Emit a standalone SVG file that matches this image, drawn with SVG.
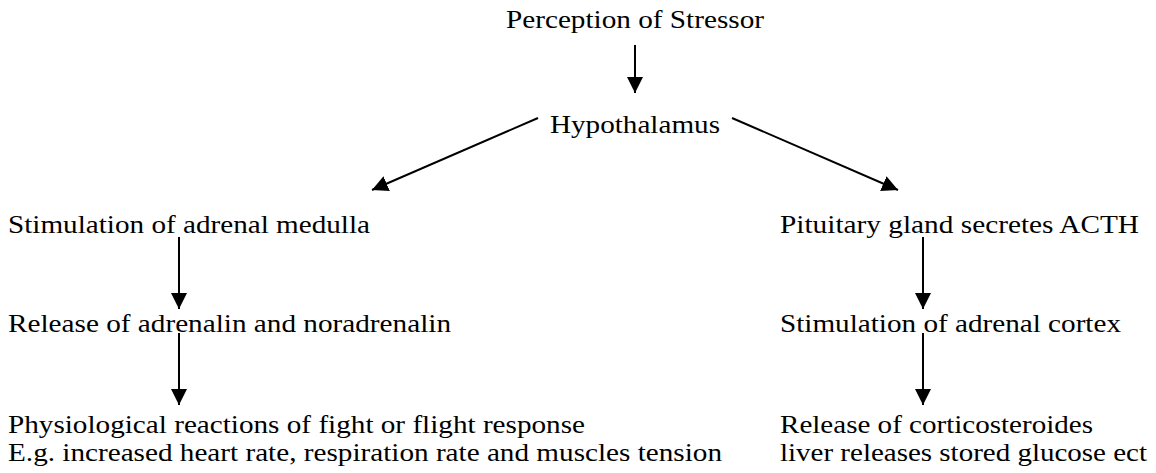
<svg xmlns="http://www.w3.org/2000/svg" width="1156" height="473" viewBox="0 0 1156 473">
<style>
text{font-family:"Liberation Serif","Times New Roman",serif;font-size:26px;fill:#000}
.c{stroke:#000;stroke-width:2;fill:none;marker-end:url(#ah)}
</style>
<defs>
<marker id="ah" markerUnits="userSpaceOnUse" markerWidth="16" markerHeight="16" refX="16" refY="8" orient="auto" viewBox="0 0 16 16">
<path d="M0,0 L16,8 L0,16 z" fill="#000"/>
</marker>
</defs>
<rect width="1156" height="473" fill="#fff"/>
<g id="connectors">
<line class="c" x1="635" y1="45" x2="635" y2="93"/>
<line class="c" x1="538" y1="118" x2="372" y2="190"/>
<line class="c" x1="732" y1="118" x2="898" y2="190"/>
<line class="c" x1="179" y1="237" x2="179" y2="309"/>
<line class="c" x1="179" y1="333" x2="179" y2="405"/>
<line class="c" x1="923" y1="237" x2="923" y2="309"/>
<line class="c" x1="923" y1="333" x2="923" y2="405"/>
</g>
<g id="perception"><text x="506" y="28" textLength="258" lengthAdjust="spacingAndGlyphs">Perception of Stressor</text></g>
<g id="hypothalamus"><text x="550" y="133" textLength="170" lengthAdjust="spacingAndGlyphs">Hypothalamus</text></g>
<g id="medulla"><text x="8" y="233" textLength="362" lengthAdjust="spacingAndGlyphs">Stimulation of adrenal medulla</text></g>
<g id="adrenalin"><text x="8" y="332" textLength="443" lengthAdjust="spacingAndGlyphs">Release of adrenalin and noradrenalin</text></g>
<g id="fight-flight">
<text x="8" y="433" textLength="577" lengthAdjust="spacingAndGlyphs">Physiological reactions of fight or flight response</text>
<text x="8" y="461" textLength="714" lengthAdjust="spacingAndGlyphs">E.g. increased heart rate, respiration rate and muscles tension</text>
</g>
<g id="pituitary"><text x="780" y="233" textLength="359" lengthAdjust="spacingAndGlyphs">Pituitary gland secretes ACTH</text></g>
<g id="cortex"><text x="780" y="332" textLength="341" lengthAdjust="spacingAndGlyphs">Stimulation of adrenal cortex</text></g>
<g id="corticosteroides">
<text x="780" y="433" textLength="313" lengthAdjust="spacingAndGlyphs">Release of corticosteroides</text>
<text x="780" y="461" textLength="367" lengthAdjust="spacingAndGlyphs">liver releases stored glucose ect</text>
</g>
</svg>
